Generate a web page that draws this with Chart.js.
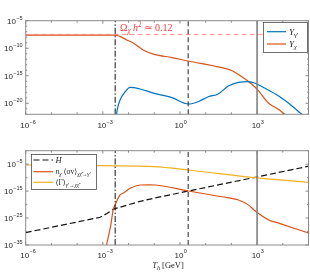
<!DOCTYPE html>
<html><head><meta charset="utf-8">
<script src="https://cdn.jsdelivr.net/npm/chart.js@4.4.1/dist/chart.umd.min.js"></script>
<style>
html,body{margin:0;padding:0;background:#fff;width:310px;height:275px;overflow:hidden}
canvas{position:absolute;left:0}
#c1{top:0}
#c2{top:130px}
</style></head>
<body>
<canvas id="c1" width="310" height="130"></canvas>
<canvas id="c2" width="310" height="145"></canvas>
<script>
// ---------------- data ----------------
// top panel
const T_Ychi = [1e-6, 1e-4, 3.02e-3, 4.79e-3, 8.51e-3, 1.51e-2, 3.72e-2, 0.1, 0.49, 2.09, 43.2, 107, 257, 631, 1122, 2754, 4467, 6761, 12589];
const Y_chi  = [2.5e-8, 2.5e-8, 2.5e-8, 1.26e-8, 3.2e-9, 8.9e-10, 4.8e-11, 7.9e-12, 2.0e-12, 4.8e-13, 2.9e-14, 8.3e-15, 6.8e-16, 2.8e-17, 1.95e-18, 1.1e-20, 2.5e-21, 7.9e-22, 7.9e-23];
const T_Ygam = [3.24e-3, 3.63e-3, 4.68e-3, 7.41e-3, 1.15e-2, 2.82e-2, 0.1, 0.49, 2.09, 5.13, 12.6, 30.9, 75.9, 190.5, 467.7, 851, 2089, 6918, 16982, 41687, 75858];
const Y_gam  = [1e-23, 6.3e-22, 4.0e-20, 1.26e-18, 7.9e-18, 4.0e-18, 6.5e-19, 1.05e-19, 7.4e-21, 1.95e-20, 1.58e-19, 4.9e-19, 1.38e-17, 6.5e-17, 8.3e-17, 4.3e-17, 5.2e-18, 2.1e-19, 1.0e-20, 2.95e-22, 3.2e-23];
const omegaY = 3.2e-8;
// bottom panel
const T_H = [1e-6, 7.94e-4, 1.45e-3, 2.57e-3, 2.82e-2, 0.102, 2.14, 851, 1.12e5];
const H_vals = [4.0e-31, 2.0e-25, 5.0e-24, 2.0e-22, 1.6e-19, 2.5e-18, 1.1e-15, 1.35e-10, 2.1e-6];
const T_ann = [1.35e-3, 2.04e-3, 2.57e-3, 3.02e-3, 4.68e-3, 6.31e-3, 1.15e-2, 2.82e-2, 6.3e-2, 0.11, 2.14, 43.2, 190.5, 467.7, 851, 2818, 6918, 1.12e5];
const ann_vals = [3.2e-36, 2.5e-28, 2.5e-22, 7.9e-21, 4.0e-17, 2.0e-16, 1.1e-14, 1.86e-13, 2.2e-13, 1.9e-13, 1.1e-15, 7.9e-18, 5.0e-19, 6.3e-21, 4.0e-23, 2.0e-26, 1.26e-27, 2.0e-31];
const T_Gam = [1e-6, 1e-3, 0.1, 2.14, 851, 1.12e5];
const Gam_vals = [5.0e-6, 2.8e-6, 1.15e-6, 6.9e-8, 9.5e-11, 1.86e-12];
// vertical reference lines
const T_dashdot = 3.02e-3;
const T_dashed = 2.09;
const T_solid = 1e3;
// axes
const xRange = [1e-6, 1e5];
const xTickExps = [-6, -3, 0, 3];
const yTopRange = [1e-22, 1e-5];
const yTopTickExps = [-5, -10, -15, -20];
const yBotRange = [1e-35, 1e0];
const yBotTickExps = [-5, -15, -25, -35];

// ---------------- helpers ----------------
const BLUE = '#0072BD', ORANGE = '#D95319', YELLOW = '#EDB120';
const pts = (T, Y) => T.map((t, i) => ({x: t, y: Y[i]}));
const SERIF = '"Liberation Serif","DejaVu Serif",serif';
const SANS = '"Liberation Sans", Arial, sans-serif';

function setFont(ctx, mode, size) {
  const it = (mode === 'i' || mode === 'subi');
  const small = (mode === 'sub' || mode === 'subi' || mode === 'sup');
  ctx.font = (it ? 'italic ' : '') + (small ? size * 0.72 : size) + 'px ' + SERIF;
}
function drawRich(ctx, segs, x, y, size, color, align) {
  let w = 0; const ws = [];
  segs.forEach(s => { setFont(ctx, s[1], size); const m = ctx.measureText(s[0]).width; ws.push(m); w += m; });
  let cx = align === 'center' ? x - w / 2 : x;
  ctx.fillStyle = color; ctx.textBaseline = 'alphabetic'; ctx.textAlign = 'left';
  segs.forEach((s, i) => {
    setFont(ctx, s[1], size);
    const dy = (s[1] === 'sub' || s[1] === 'subi') ? size * 0.28 : (s[1] === 'sup' ? -size * 0.4 : 0);
    ctx.fillText(s[0], cx, y + dy);
    cx += ws[i];
  });
}
// tick label "10^e" : align 'center' or 'right'; (x, baseline)
function powLabel(ctx, e, x, base, align) {
  const s1 = '10', s2 = String(e).replace('-', '\u2212');
  ctx.font = '8px ' + SANS; const w1 = ctx.measureText(s1).width;
  ctx.font = '5.5px ' + SANS; const w2 = ctx.measureText(s2).width;
  const w = w1 + w2;
  let x0 = align === 'right' ? x - w : x - w1 / 2 - 1;
  ctx.fillStyle = '#262626'; ctx.textAlign = 'left'; ctx.textBaseline = 'alphabetic';
  ctx.font = '8px ' + SANS; ctx.fillText(s1, x0, base);
  ctx.font = '5.5px ' + SANS; ctx.fillText(s2, x0 + w1 + 0.3, base - 4.2);
}
function line(ctx, x1, y1, x2, y2, color, w, dash) {
  ctx.save(); ctx.strokeStyle = color; ctx.lineWidth = w; ctx.setLineDash(dash || []);
  ctx.beginPath(); ctx.moveTo(x1, y1); ctx.lineTo(x2, y2); ctx.stroke(); ctx.restore();
}
function frameAndTicks(chart, yExpMin, yExpMax, yLabeled, yMinorStep, xLabelBase) {
  const ctx = chart.ctx, ca = chart.chartArea, xs = chart.scales.x, ys = chart.scales.y;
  ctx.save();
  ctx.strokeStyle = '#8a8a8a'; ctx.lineWidth = 1;
  ctx.strokeRect(ca.left, ca.top, ca.right - ca.left, ca.bottom - ca.top);
  for (let e = -6; e <= 5; e++) {
    const px = xs.getPixelForValue(Math.pow(10, e));
    const len = xTickExps.includes(e) ? 3 : 2;
    line(ctx, px, ca.bottom, px, ca.bottom - len, '#8a8a8a', 1);
    line(ctx, px, ca.top, px, ca.top + len, '#8a8a8a', 1);
  }
  for (let e = yExpMin; e <= yExpMax; e += yMinorStep) {
    const py = ys.getPixelForValue(Math.pow(10, e));
    const len = yLabeled.includes(e) ? 3 : 1.5;
    line(ctx, ca.left, py, ca.left + len, py, '#8a8a8a', 1);
    line(ctx, ca.right, py, ca.right - len, py, '#8a8a8a', 1);
  }
  // tick labels from the scales
  xs.ticks.forEach(t => {
    const e = Math.round(Math.log10(t.value));
    powLabel(ctx, e, xs.getPixelForValue(t.value), ca.bottom + xLabelBase, 'center');
  });
  ys.ticks.forEach(t => {
    const e = Math.round(Math.log10(t.value));
    powLabel(ctx, e, ca.left - 3.5, ys.getPixelForValue(t.value) + 3, 'right');
  });
  ctx.restore();
}
function xScale(height) {
  return {
    type: 'logarithmic', min: xRange[0], max: xRange[1],
    grid: {display: false}, border: {display: false},
    ticks: {display: false, autoSkip: false},
    afterBuildTicks: s => { s.ticks = xTickExps.map(e => ({value: Math.pow(10, e)})); },
    afterFit: s => { s.height = height; }
  };
}
function yScale(range, exps) {
  return {
    type: 'logarithmic', min: range[0], max: range[1],
    grid: {display: false}, border: {display: false},
    ticks: {display: false, autoSkip: false},
    afterBuildTicks: s => { s.ticks = exps.map(e => ({value: Math.pow(10, e)})); },
    afterFit: s => { s.width = 25.7; }
  };
}
function curve(label, T, Y, color, w, dash, straight) {
  const d = {label, data: pts(T, Y), borderColor: color, borderWidth: w || 1.2, borderDash: dash || [],
    pointRadius: 0, fill: false};
  if (straight) d.tension = 0; else d.cubicInterpolationMode = 'monotone';
  return d;
}
function vline(label, t, range, color, w, dash) {
  return {label, data: [{x: t, y: range[0]}, {x: t, y: range[1]}], borderColor: color, borderWidth: w,
    borderDash: dash || [], pointRadius: 0, fill: false, tension: 0};
}

// ---------------- top chart ----------------
new Chart(document.getElementById('c1'), {
  type: 'line',
  data: {datasets: [
    vline('vdd', T_dashdot, yTopRange, '#111', 1, [6, 2, 1.5, 2]),
    vline('vd', T_dashed, yTopRange, '#222', 1, [5, 3]),
    vline('vs', T_solid, yTopRange, '#808080', 1.6),
    curve('Omega', xRange, [omegaY, omegaY], '#ff7a7a', 0.8, [5, 3], true),
    curve("Y_gamma'", T_Ygam, Y_gam, BLUE),
    curve('Y_chi', T_Ychi, Y_chi, ORANGE)
  ]},
  options: {
    responsive: false, animation: false, devicePixelRatio: 1,
    layout: {padding: {top: 20.7, right: 1.5, left: 0, bottom: 0}},
    plugins: {legend: {display: false}, tooltip: {enabled: false}},
    scales: {x: xScale(15.7), y: yScale(yTopRange, yTopTickExps)}
  },
  plugins: [{id: 'decoTop', afterDraw(chart) {
    const ctx = chart.ctx;
    frameAndTicks(chart, -22, -5, yTopTickExps, 1, 14);
    // annotation
    drawRich(ctx, [['\u03A9', 'n'], ['\u03C7', 'subi'], [' h', 'i'], ['2', 'sup'], [' \u2243 0.12', 'n']], 120, 30.5, 10, '#f03a3a', 'left');
    // legend
    ctx.save();
    ctx.fillStyle = '#fff'; ctx.fillRect(263.5, 22.5, 44, 30);
    ctx.strokeStyle = '#4d4d4d'; ctx.lineWidth = 0.8; ctx.strokeRect(263.5, 22.5, 44, 30);
    ctx.restore();
    line(ctx, 267, 31.7, 286, 31.7, BLUE, 1.2);
    line(ctx, 267, 44, 286, 44, ORANGE, 1.2);
    drawRich(ctx, [['Y', 'i'], ['\u03B3\u2032', 'sub']], 289, 34.5, 9, '#222', 'left');
    drawRich(ctx, [['Y', 'i'], ['\u03C7', 'subi']], 289, 46.8, 9, '#222', 'left');
  }}]
});

// ---------------- bottom chart ----------------
new Chart(document.getElementById('c2'), {
  type: 'line',
  data: {datasets: [
    vline('vdd', T_dashdot, yBotRange, '#111', 1, [6, 2, 1.5, 2]),
    vline('vd', T_dashed, yBotRange, '#222', 1, [5, 3]),
    vline('vs', T_solid, yBotRange, '#808080', 1.6),
    curve('Gamma', T_Gam, Gam_vals, YELLOW),
    curve('n sigma v', T_ann, ann_vals, ORANGE),
    curve('H', T_H, H_vals, '#111', 1.2, [6, 3], true)
  ]},
  options: {
    responsive: false, animation: false, devicePixelRatio: 1,
    layout: {padding: {top: 20.7, right: 1.5, left: 0, bottom: 0}},
    plugins: {legend: {display: false}, tooltip: {enabled: false}},
    scales: {x: xScale(30), y: yScale(yBotRange, yBotTickExps)}
  },
  plugins: [{id: 'decoBot', afterDraw(chart) {
    const ctx = chart.ctx;
    frameAndTicks(chart, -35, 0, yBotTickExps, 5, 12.5);
    // legend
    ctx.save();
    ctx.fillStyle = '#fff'; ctx.fillRect(31.5, 24.5, 65, 35);
    ctx.strokeStyle = '#4d4d4d'; ctx.lineWidth = 0.8; ctx.strokeRect(31.5, 24.5, 65, 35);
    ctx.restore();
    line(ctx, 33.5, 30, 53, 30, '#111', 1.2, [6, 3]);
    line(ctx, 33.5, 41.7, 53, 41.7, ORANGE, 1.2);
    line(ctx, 33.5, 52.3, 53, 52.3, YELLOW, 1.2);
    drawRich(ctx, [['H', 'i']], 55.5, 33, 8.5, '#222', 'left');
    drawRich(ctx, [['n', 'i'], ['\u03C7', 'subi'], [' \u27E8\u03C3v\u27E9', 'n'], ['\u03C7\u03C7\u0304\u2192\u03B3\u2032', 'subi']], 55.5, 44.2, 7.5, '#222', 'left');
    drawRich(ctx, [['\u27E8\u0393\u27E9', 'n'], ['\u03B3\u2032\u2192\u03C7\u03C7\u0304', 'subi']], 55.5, 54.8, 7.5, '#222', 'left');
    // x-axis title
    drawRich(ctx, [['T', 'i'], ['h', 'subi'], [' [GeV]', 'n']], 168, 138, 8.5, '#222', 'center');
  }}]
});
</script>
</body></html>
